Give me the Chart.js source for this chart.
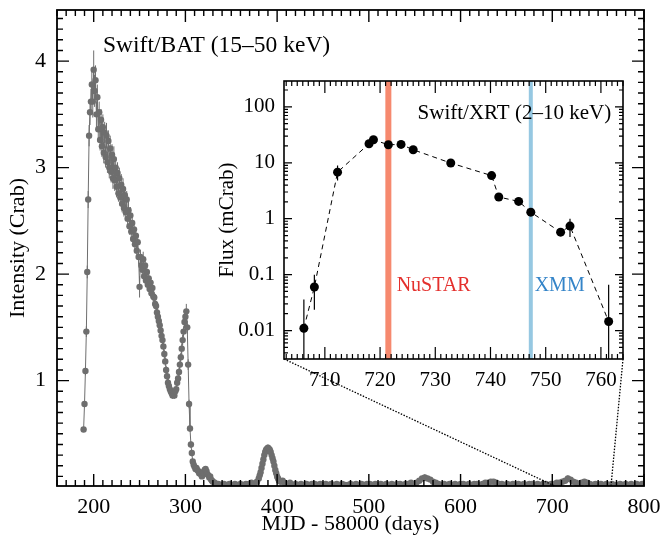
<!DOCTYPE html>
<html>
<head>
<meta charset="utf-8">
<script src="https://cdn.jsdelivr.net/npm/chart.js@4.4.1/dist/chart.umd.min.js"></script>
<style>
html,body{margin:0;padding:0;background:#fff;}
#wrap{position:relative;width:663px;height:544px;overflow:hidden;}
#main{position:absolute;left:0;top:0;width:663px;height:544px;}
#inset{position:absolute;left:210px;top:70px;width:430px;height:330px;}
</style>
</head>
<body>
<div id="wrap">
<canvas id="main" width="663" height="544"></canvas>
<canvas id="inset" width="430" height="330"></canvas>
</div>
<script>
// ---------------- Swift/BAT light curve (main panel) ----------------
const batDays = [
 189,190,191,192,193,194,195,196,197,198,
 199,200,201,202,203,204,205,206,207,208,
 209,210,211,212,213,214,215,216,217,218,
 219,220,221,222,223,224,225,226,227,228,
 229,230,231,232,233,234,235,236,237,238,
 239,240,241,242,243,244,245,246,247,248,
 249,250,251,252,253,254,255,256,257,258,
 259,260,261,262,263,264,265,266,267,268,
 269,270,271,272,273,274,275,276,277,278,
 279,280,281,282,283,284,285,286,287,288,
 289,290,291,292,293,294,295,296,297,298,
 299,300,301,302,303,304,305,306,307,308,
 309,310,311,312,313,314,315,316,317,318,
 319,320,321,322,323,324,325,326,327,328,
 329,330,
 332,334,336,339,342,345,348,351,354,357,
 360,363,366,369,372,375,378,380,381,382,
 383,384,385,386,387,388,389,390,391,392,
 393,394,395,396,397,398,399,400,401,402,
 404,406,408,411,414,417,420,423,426,429,
 432,435,438,441,444,447,450,453,456,459,
 462,465,468,471,474,477,480,483,486,489,
 492,495,498,501,504,507,510,513,516,519,
 522,525,528,531,534,537,540,543,546,549,
 552,555,558,561,564,567,570,573,576,579,
 582,585,588,591,594,597,600,603,606,609,
 612,615,618,621,624,627,630,633,636,639,
 642,645,648,651,654,657,660,663,666,669,
 672,675,678,681,684,687,690,693,696,699,
 702,705,708,711,714,717,720,723,726,729,
 732,735,738,741,744,747,750,753,756,759,
 762,765,768,771,774,777,780,783,786,789,
 792,795,798
];
const batFlux = [
 0.54,0.78,1.09,1.46,2.02,2.70,3.30,3.52,3.62,3.78,
 3.62,3.92,3.72,3.82,3.50,3.66,3.36,3.52,3.26,3.45,
 3.20,3.38,3.14,3.33,3.10,3.30,3.05,3.25,3.00,3.18,
 2.96,3.12,2.90,3.08,2.88,3.00,2.82,2.95,2.76,2.90,
 2.72,2.84,2.66,2.80,2.62,2.74,2.58,2.70,2.52,2.60,
 2.45,2.55,2.40,2.48,2.33,2.42,2.28,2.36,2.22,2.30,
 2.16,1.88,2.16,2.08,2.04,2.14,1.98,2.08,1.94,2.02,
 1.90,1.96,1.86,1.92,1.82,1.87,1.79,1.78,1.72,1.70,
 1.64,1.60,1.56,1.52,1.47,1.42,1.38,1.32,1.25,1.18,
 1.10,1.04,0.98,0.95,0.92,0.90,0.88,0.86,0.87,0.86,
 0.90,0.92,0.98,1.02,1.08,1.15,1.22,1.30,1.38,1.46,
 1.55,1.60,1.65,1.50,1.15,0.78,0.55,0.40,0.32,0.24,
 0.21,0.19,0.17,0.18,0.16,0.15,0.13,0.14,0.12,0.10,
 0.12,0.14,0.16,0.17,0.15,0.12,0.11,0.09,0.10,0.07,
 0.06,0.05,
 0.04,0.03,0.03,0.02,0.03,0.02,0.03,0.02,0.03,0.02,
 0.03,0.02,0.03,0.03,0.04,0.03,0.05,0.08,0.11,0.14,
 0.18,0.22,0.26,0.30,0.33,0.35,0.36,0.37,0.36,0.35,
 0.33,0.30,0.27,0.24,0.20,0.16,0.13,0.10,0.08,0.06,
 0.05,0.06,0.04,0.03,0.04,0.02,0.03,0.02,0.03,0.02,
 0.03,0.02,0.03,0.03,0.02,0.03,0.02,0.03,0.02,0.03,
 0.02,0.03,0.02,0.03,0.02,0.02,0.03,0.02,0.03,0.02,
 0.03,0.02,0.03,0.03,0.02,0.03,0.02,0.03,0.02,0.03,
 0.02,0.03,0.02,0.03,0.03,0.02,0.03,0.03,0.04,0.03,
 0.04,0.06,0.08,0.09,0.08,0.07,0.05,0.04,0.03,0.02,
 0.03,0.02,0.03,0.02,0.03,0.02,0.03,0.03,0.02,0.03,
 0.02,0.03,0.03,0.02,0.03,0.04,0.04,0.05,0.05,0.04,
 0.03,0.03,0.02,0.03,0.02,0.03,0.02,0.03,0.02,0.03,
 0.02,0.03,0.03,0.02,0.03,0.02,0.03,0.03,0.02,0.03,
 0.03,0.04,0.04,0.05,0.06,0.08,0.07,0.05,0.04,0.03,
 0.04,0.05,0.04,0.03,0.02,0.03,0.02,0.03,0.02,0.03,
 0.02,0.03,0.02,0.02,0.03,0.02,0.03,0.02,0.03,0.02,
 0.03,0.02,0.03
];
const batErr = [
 0.02,0.03,0.04,0.05,0.06,0.08,0.10,0.12,0.12,0.15,
 0.15,0.18,0.15,0.14,0.12,0.12,0.12,0.10,0.10,0.10,
 0.10,0.12,0.10,0.10,0.10,0.12,0.10,0.10,0.10,0.12,
 0.10,0.10,0.10,0.12,0.10,0.10,0.10,0.10,0.08,0.10,
 0.08,0.10,0.08,0.10,0.08,0.08,0.08,0.08,0.08,0.08,
 0.08,0.08,0.07,0.07,0.07,0.08,0.07,0.07,0.07,0.07,
 0.07,0.10,0.07,0.06,0.06,0.07,0.06,0.06,0.06,0.06,
 0.06,0.06,0.05,0.05,0.05,0.05,0.05,0.05,0.05,0.05,
 0.05,0.05,0.05,0.04,0.04,0.04,0.04,0.04,0.04,0.04,
 0.04,0.04,0.04,0.03,0.03,0.03,0.03,0.03,0.03,0.03,
 0.03,0.03,0.03,0.04,0.04,0.04,0.04,0.05,0.05,0.05,
 0.05,0.06,0.07,0.06,0.05,0.04,0.03,0.03,0.03,0.02,
 0.02,0.02,0.02,0.02,0.02,0.02,0.02,0.02,0.02,0.02,
 0.02,0.02,0.02,0.02,0.02,0.02,0.02,0.02,0.02,0.02,
 0.02,0.02,
 0.02,0.02,0.02,0.02,0.02,0.02,0.02,0.02,0.02,0.02,
 0.02,0.02,0.02,0.02,0.02,0.02,0.02,0.02,0.03,0.03,
 0.03,0.03,0.03,0.03,0.03,0.03,0.03,0.03,0.03,0.03,
 0.03,0.03,0.03,0.03,0.03,0.03,0.03,0.02,0.02,0.02,
 0.02,0.02,0.02,0.02,0.02,0.02,0.02,0.02,0.02,0.02,
 0.02,0.02,0.02,0.02,0.02,0.02,0.02,0.02,0.02,0.02,
 0.02,0.02,0.02,0.02,0.02,0.02,0.02,0.02,0.02,0.02,
 0.02,0.02,0.02,0.02,0.02,0.02,0.02,0.02,0.02,0.02,
 0.02,0.02,0.02,0.02,0.02,0.02,0.02,0.02,0.02,0.02,
 0.02,0.02,0.02,0.03,0.02,0.02,0.02,0.02,0.02,0.02,
 0.02,0.02,0.02,0.02,0.02,0.02,0.02,0.02,0.02,0.02,
 0.02,0.02,0.02,0.02,0.02,0.02,0.02,0.02,0.02,0.02,
 0.02,0.02,0.02,0.02,0.02,0.02,0.02,0.02,0.02,0.02,
 0.02,0.02,0.02,0.02,0.02,0.02,0.02,0.02,0.02,0.02,
 0.02,0.02,0.02,0.02,0.02,0.03,0.02,0.02,0.02,0.02,
 0.02,0.02,0.02,0.02,0.02,0.02,0.02,0.02,0.02,0.02,
 0.02,0.02,0.02,0.02,0.02,0.02,0.02,0.02,0.02,0.02,
 0.02,0.02,0.02
];
const mainXTicks = [200, 300, 400, 500, 600, 700, 800];
const mainYTicks = [1, 2, 3, 4];

// ---------------- Swift/XRT (inset) ----------------
const xrtDays = [706.2, 708.1, 712.3, 718.0, 718.8, 721.5, 723.8, 726.0, 732.8, 740.2, 741.5, 745.1, 747.3, 752.7, 754.4, 761.4];
const xrtFlux = [0.011, 0.060, 6.8, 21.9, 25.8, 21.0, 21.3, 17.1, 9.9, 5.9, 2.44, 2.04, 1.31, 0.575, 0.737, 0.0145];
const xrtLow  = [0.0005, 0.0235, 4.8, 20.0, 23.5, 19.2, 19.6, 15.6, 9.2, 5.4, 2.24, 1.86, 1.20, 0.52, 0.47, 0.0005];
const xrtHigh = [0.036, 0.100, 8.9, 24.0, 28.3, 23.0, 23.2, 18.7, 10.7, 6.5, 2.66, 2.24, 1.43, 0.64, 1.00, 0.066];
const insetXTicks = [710, 720, 730, 740, 750, 760];
const insetYTicks = [0.01, 0.1, 1, 10, 100];
const insetYTickLabels = ['0.01', '0.1', '1', '10', '100'];
const nustarDay = 721.5;
const xmmDay = 747.3;

// ---------------- styles ----------------
const FONT = "'Liberation Serif','Times New Roman',Times,serif";
const GRAY = 'rgb(110,110,110)';
const NUSTAR_BAR = 'rgb(246,137,110)';
const XMM_BAR = 'rgb(150,200,226)';
const NUSTAR_TXT = 'rgb(228,48,45)';
const XMM_TXT = 'rgb(52,132,200)';

function range(a, b, step) { const out = []; for (let v = a; v <= b + 1e-9; v += step) out.push(+v.toFixed(6)); return out; }
function logMinor(min, max) { const out = []; for (let e = Math.floor(Math.log10(min)); e <= Math.ceil(Math.log10(max)); e++) for (let m = 1; m <= 9; m++) { const v = m * Math.pow(10, e); if (v >= min && v <= max) out.push(v); } return out; }
function noEdgePad(s) { s.paddingTop = 0; s.paddingBottom = 0; s.paddingLeft = 0; s.paddingRight = 0; }

// error bars drawn through the scales
function errorBarPlugin(lowFn, highFn, color, width) {
  return {
    id: 'errbars',
    beforeDatasetsDraw(chart) {
      const {ctx, chartArea: a, scales: {x, y}} = chart;
      const ds = chart.data.datasets[0].data;
      ctx.save();
      ctx.beginPath(); ctx.rect(a.left, a.top, a.right - a.left, a.bottom - a.top); ctx.clip();
      ctx.strokeStyle = color; ctx.lineWidth = width;
      ctx.beginPath();
      ds.forEach((p, i) => {
        const px = x.getPixelForValue(p.x);
        ctx.moveTo(px, y.getPixelForValue(lowFn(i)));
        ctx.lineTo(px, y.getPixelForValue(highFn(i)));
      });
      ctx.stroke();
      ctx.restore();
    }
  };
}

// frame with inward ticks on all four sides
function framePlugin(cfg) {
  return {
    id: 'frame',
    afterDraw(chart) {
      const {ctx, chartArea: a, scales: {x, y}} = chart;
      ctx.save();
      ctx.strokeStyle = '#000';
      ctx.lineWidth = cfg.tickWidth;
      ctx.beginPath();
      const xt = (vals, len) => vals.forEach(v => {
        const px = x.getPixelForValue(v);
        if (px < a.left - 0.5 || px > a.right + 0.5) return;
        ctx.moveTo(px, a.bottom); ctx.lineTo(px, a.bottom - len);
        ctx.moveTo(px, a.top); ctx.lineTo(px, a.top + len);
      });
      const yt = (vals, len) => vals.forEach(v => {
        const py = y.getPixelForValue(v);
        if (py < a.top - 0.5 || py > a.bottom + 0.5) return;
        ctx.moveTo(a.left, py); ctx.lineTo(a.left + len, py);
        ctx.moveTo(a.right, py); ctx.lineTo(a.right - len, py);
      });
      xt(cfg.xMinor, cfg.xMinorLen); xt(cfg.xMajor, cfg.xMajorLen);
      yt(cfg.yMinor, cfg.yMinorLen); yt(cfg.yMajor, cfg.yMajorLen);
      ctx.stroke();
      ctx.lineWidth = cfg.frameWidth;
      ctx.strokeRect(a.left, a.top, a.right - a.left, a.bottom - a.top);
      ctx.restore();
    }
  };
}

function textPlugin(items) {
  return {
    id: 'texts',
    afterDatasetsDraw(chart) {
      const {ctx, scales: {x, y}} = chart;
      ctx.save();
      items.forEach(t => {
        ctx.font = t.font; ctx.fillStyle = t.color;
        ctx.textAlign = 'left'; ctx.textBaseline = 'middle';
        ctx.fillText(t.text, x.getPixelForValue(t.x), y.getPixelForValue(t.y));
      });
      ctx.restore();
    }
  };
}

// ---------------- inset chart ----------------
const insetChart = new Chart(document.getElementById('inset'), {
  type: 'scatter',
  data: { datasets: [{
    data: xrtDays.map((d, i) => ({x: d, y: xrtFlux[i]})),
    showLine: true, borderColor: '#000', borderWidth: 1, borderDash: [5, 4],
    backgroundColor: '#000', pointRadius: 4.5, pointBorderWidth: 0, pointHoverRadius: 4.5
  }]},
  options: {
    responsive: false, animation: false, events: [],
    layout: { padding: { top: 11, right: 17, left: 0, bottom: 0 } },
    plugins: { legend: { display: false }, tooltip: { enabled: false } },
    scales: {
      x: {
        type: 'linear', min: 702.6, max: 764,
        afterBuildTicks: s => { s.ticks = insetXTicks.map(v => ({value: v})); },
        afterFit: s => { s.height = 41; noEdgePad(s); },
        grid: { display: false, drawTicks: false }, border: { display: false },
        ticks: { padding: 9, autoSkip: false, maxRotation: 0, color: '#000', font: { family: FONT, size: 21 }, callback: v => String(v) }
      },
      y: {
        type: 'logarithmic', min: 0.0031, max: 290,
        afterBuildTicks: s => { s.ticks = insetYTicks.map(v => ({value: v})); },
        afterFit: s => { s.width = 74; noEdgePad(s); },
        grid: { display: false, drawTicks: false }, border: { display: false },
        ticks: { padding: 9, autoSkip: false, color: '#000', font: { family: FONT, size: 21 },
          callback: (v) => { const i = insetYTicks.findIndex(t => Math.abs(t - v) / t < 1e-6); return i >= 0 ? insetYTickLabels[i] : ''; } },
        title: { display: true, text: 'Flux (mCrab)', color: '#000', font: { family: FONT, size: 21 }, padding: { top: 5, bottom: 0 } }
      }
    }
  },
  plugins: [
    { id: 'bg', beforeDraw(chart) { const {ctx, chartArea: a} = chart; ctx.save(); ctx.fillStyle = '#fff'; ctx.fillRect(a.left, a.top, a.right - a.left, a.bottom - a.top); ctx.restore(); } },
    { id: 'obs', beforeDatasetsDraw(chart) {
        const {ctx, chartArea: a, scales: {x}} = chart;
        ctx.save();
        ctx.fillStyle = NUSTAR_BAR; const xn = x.getPixelForValue(nustarDay); ctx.fillRect(xn - 3, a.top, 6, a.bottom - a.top);
        ctx.fillStyle = XMM_BAR; const xm = x.getPixelForValue(xmmDay); ctx.fillRect(xm - 2, a.top, 4, a.bottom - a.top);
        ctx.restore();
    } },
    errorBarPlugin(i => xrtLow[i], i => xrtHigh[i], '#000', 1.2),
    textPlugin([
      { text: 'Swift/XRT (2\u201310 keV)', x: 726.8, y: 77, color: '#000', font: "21px " + FONT },
      { text: 'NuSTAR', x: 723.0, y: 0.064, color: NUSTAR_TXT, font: "20px " + FONT },
      { text: 'XMM', x: 748.0, y: 0.064, color: XMM_TXT, font: "20px " + FONT }
    ]),
    framePlugin({ tickWidth: 1.2, frameWidth: 1.6,
      xMajor: insetXTicks, xMinor: range(703, 764, 1), xMajorLen: 12, xMinorLen: 5,
      yMajor: insetYTicks, yMinor: logMinor(0.0031, 290), yMajorLen: 8, yMinorLen: 4 })
  ]
});

// ---------------- main chart ----------------
const mainChart = new Chart(document.getElementById('main'), {
  type: 'scatter',
  data: { datasets: [{
    data: batDays.map((d, i) => ({x: d, y: batFlux[i]})),
    showLine: true, borderColor: GRAY, borderWidth: 1,
    backgroundColor: GRAY, pointRadius: 3.2, pointBorderWidth: 0, pointHoverRadius: 3.2
  }]},
  options: {
    responsive: false, animation: false, events: [],
    layout: { padding: { top: 10, right: 19, left: 0, bottom: 0 } },
    plugins: { legend: { display: false }, tooltip: { enabled: false } },
    scales: {
      x: {
        type: 'linear', min: 160, max: 800,
        afterBuildTicks: s => { s.ticks = mainXTicks.map(v => ({value: v})); },
        afterFit: s => { s.height = 58; noEdgePad(s); },
        grid: { display: false, drawTicks: false }, border: { display: false },
        ticks: { padding: 8, autoSkip: false, maxRotation: 0, color: '#000', font: { family: FONT, size: 22 }, callback: v => String(v) },
        title: { display: true, text: 'MJD - 58000 (days)', color: '#000', font: { family: FONT, size: 22 }, padding: { top: 0, bottom: 7 } }
      },
      y: {
        type: 'linear', min: 0.01, max: 4.48,
        afterBuildTicks: s => { s.ticks = mainYTicks.map(v => ({value: v})); },
        afterFit: s => { s.width = 57; noEdgePad(s); },
        grid: { display: false, drawTicks: false }, border: { display: false },
        ticks: { padding: 11, autoSkip: false, color: '#000', font: { family: FONT, size: 22 }, callback: v => String(v) },
        title: { display: true, text: 'Intensity (Crab)', color: '#000', font: { family: FONT, size: 22 }, padding: { top: 5, bottom: 0 } }
      }
    }
  },
  plugins: [
    errorBarPlugin(i => batFlux[i] - batErr[i], i => batFlux[i] + batErr[i], GRAY, 1),
    textPlugin([{ text: 'Swift/BAT (15\u201350 keV)', x: 210.2, y: 4.14, color: '#000', font: "23.5px " + FONT }]),
    framePlugin({ tickWidth: 1.4, frameWidth: 1.8,
      xMajor: mainXTicks, xMinor: range(160, 800, 10), xMajorLen: 12, xMinorLen: 6,
      yMajor: mainYTicks, yMinor: range(0.1, 4.4, 0.1), yMajorLen: 12, yMinorLen: 6 }),
    { id: 'zoomLines', afterDraw(chart) {
        const {ctx, scales: {x, y}} = chart;
        const ia = insetChart.chartArea;
        const ic = insetChart.canvas;
        const ox = ic.offsetLeft, oy = ic.offsetTop;
        const y0 = y.getPixelForValue(y.min);
        ctx.save();
        ctx.strokeStyle = '#000'; ctx.lineWidth = 1.3; ctx.setLineDash([1.5, 1.5]);
        ctx.beginPath();
        ctx.moveTo(ox + ia.left, oy + ia.bottom); ctx.lineTo(x.getPixelForValue(insetChart.scales.x.min), y0);
        ctx.moveTo(ox + ia.right, oy + ia.bottom); ctx.lineTo(x.getPixelForValue(insetChart.scales.x.max), y0);
        ctx.stroke();
        ctx.restore();
    } }
  ]
});
</script>
</body>
</html>
